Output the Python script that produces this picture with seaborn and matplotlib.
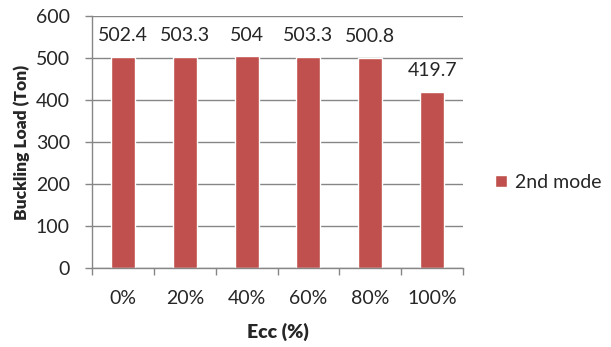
import matplotlib
matplotlib.use("Agg")
import matplotlib.pyplot as plt
import seaborn as sns
import pandas as pd

# Buckling load of the 2nd mode for each eccentricity level
ecc_labels = ["0%", "20%", "40%", "60%", "80%", "100%"]
load_values = [502.4, 503.3, 504, 503.3, 500.8, 419.7]
value_labels = ["502.4", "503.3", "504", "503.3", "500.8", "419.7"]
series_name = "2nd mode"

df = pd.DataFrame({"Ecc": ecc_labels, "Load": load_values, "Series": series_name})

sns.set_theme(style="white")
plt.rcParams["font.family"] = ["Lato", "DejaVu Sans"]

bar_color = "#C0504D"
grey = "#868686"
fs = 14

fig = plt.figure(figsize=(6.11, 3.47), dpi=100)
ax = fig.add_axes([0.1506, 0.2277, 0.6072, 0.7262])

sns.barplot(data=df, x="Ecc", y="Load", hue="Series", palette=[bar_color],
            width=0.39, ax=ax, legend=True, saturation=1)

ax.set_ylim(0, 600)
ax.set_xlim(-0.5, len(ecc_labels) - 0.5)
ax.set_yticks(range(0, 601, 100))
ax.yaxis.grid(True, color=grey, linewidth=1)
ax.set_axisbelow(True)

for s in ["top", "right"]:
    ax.spines[s].set_visible(False)
for s in ["left", "bottom"]:
    ax.spines[s].set_color(grey)
    ax.spines[s].set_linewidth(1)

ax.tick_params(axis="y", which="major", length=5, color=grey, width=1,
               labelsize=fs, pad=11, left=True)
ax.tick_params(axis="x", which="major", length=0, labelsize=fs, pad=16)
ax.set_xticks([i - 0.5 for i in range(len(ecc_labels) + 1)], minor=True)
ax.tick_params(axis="x", which="minor", length=5, color=grey, width=1, bottom=True)

for i, (v, t) in enumerate(zip(load_values, value_labels)):
    ax.annotate(t, (i, v), xytext=(0, 9), textcoords="offset points",
                ha="center", va="bottom", fontsize=fs)

ax.set_xlabel("Ecc (%)", fontsize=14, fontweight="heavy", labelpad=11)
ax.set_ylabel("Buckling Load (Ton)", fontsize=12.5, fontweight="heavy", labelpad=4)

leg = ax.legend(loc="center left", bbox_to_anchor=(1.04, 0.34), frameon=False,
                fontsize=fs, handlelength=0.6, handleheight=0.6, handletextpad=0.4)

fig.savefig("out.png", dpi=100, facecolor="white")
